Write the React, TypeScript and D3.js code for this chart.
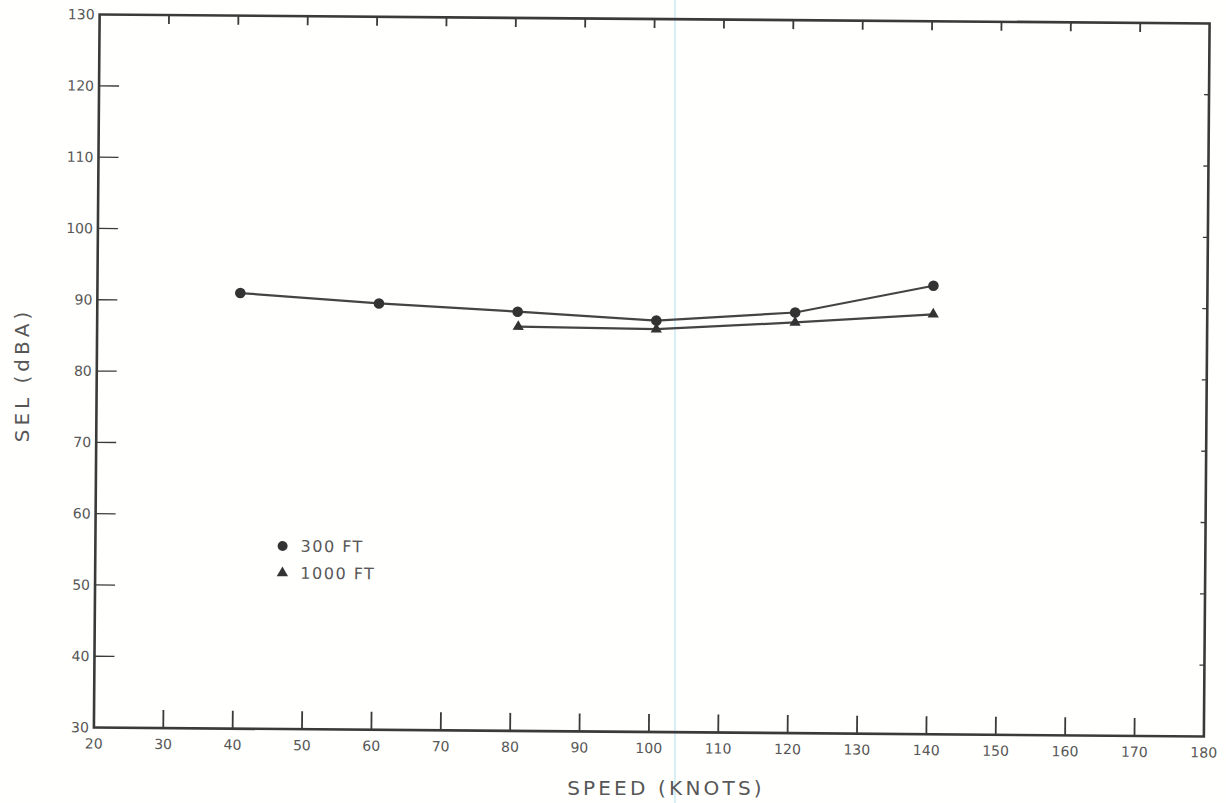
import React from "react";
import * as d3 from "d3";

const speedTicks = [20, 30, 40, 50, 60, 70, 80, 90, 100, 110, 120, 130, 140, 150, 160, 170, 180];
const selTicks = [30, 40, 50, 60, 70, 80, 90, 100, 110, 120, 130];

const speeds300 = [40.6, 60.6, 80.6, 100.6, 120.6, 140.5];
const sel300 = [91.1, 89.8, 88.8, 87.7, 89.0, 92.9];

const speeds1000 = [80.7, 100.6, 120.6, 140.5];
const sel1000 = [86.7, 86.5, 87.6, 88.9];

const legendLabels = ["300 FT", "1000 FT"];

const W = 1226;
const H = 803;
const left = 96.75;
const right = 1206.75;
const top = 19;
const bottom = 732;
const cx = (left + right) / 2;
const cy = (top + bottom) / 2;
const ink = "#3a3a3a";
const labelInk = "#575757";
const font = "'DejaVu Sans', 'Liberation Sans', sans-serif";

export default function App() {
  const x = d3.scaleLinear().domain([20, 180]).range([left, right]);
  const y = d3.scaleLinear().domain([30, 130]).range([bottom, top]);

  const line = d3
    .line<[number, number]>()
    .x((d) => x(d[0]))
    .y((d) => y(d[1]));

  const pts300: [number, number][] = speeds300.map((s, i) => [s, sel300[i]]);
  const pts1000: [number, number][] = speeds1000.map((s, i) => [s, sel1000[i]]);

  const tri = d3.symbol().type(d3.symbolTriangle).size(55)();

  return (
    <svg
      width={W}
      height={H}
      style={{ position: "fixed", left: 0, top: 0, background: "#fff" }}
    >
      <rect x={0} y={0} width={W} height={H} fill="#fffffd" />
      {/* scanner artifact line */}
      <line x1={675} x2={675} y1={0} y2={H} stroke="#c9ebf2" strokeWidth={1.5} />
      <g transform={`rotate(0.46, ${cx}, ${cy})`}>
        {/* frame */}
        <rect
          x={left}
          y={top}
          width={right - left}
          height={bottom - top}
          fill="none"
          stroke={ink}
          strokeWidth={2.6}
        />
        {/* x ticks */}
        {speedTicks.map((t) => (
          <g key={"xt" + t}>
            {t !== 20 && t !== 180 && (
              <>
                <line x1={x(t)} x2={x(t)} y1={bottom} y2={bottom - 18} stroke={ink} strokeWidth={1.8} />
                <line x1={x(t)} x2={x(t)} y1={top} y2={top + 9} stroke={ink} strokeWidth={1.8} />
              </>
            )}
            <text
              x={x(t)}
              y={bottom + 21}
              textAnchor="middle"
              fontFamily={font}
              fontSize={14}
              fill={labelInk}
            >
              {t}
            </text>
          </g>
        ))}
        {/* y ticks */}
        {selTicks.map((t) => (
          <g key={"yt" + t}>
            {t !== 30 && t !== 130 && (
              <>
                <line x1={left} x2={left + 20} y1={y(t)} y2={y(t)} stroke={ink} strokeWidth={1.3} />
                <line x1={right} x2={right - 5} y1={y(t)} y2={y(t)} stroke={ink} strokeWidth={1.3} />
              </>
            )}
            <text
              x={left - 5}
              y={y(t)}
              dy="0.35em"
              textAnchor="end"
              fontFamily={font}
              fontSize={14}
              fill={labelInk}
            >
              {t}
            </text>
          </g>
        ))}
        {/* series lines */}
        <path d={line(pts300) || ""} fill="none" stroke="#444" strokeWidth={2.2} />
        <path d={line(pts1000) || ""} fill="none" stroke="#444" strokeWidth={2.2} />
        {pts300.map((p, i) => (
          <circle key={"c" + i} cx={x(p[0])} cy={y(p[1])} r={5.3} fill="#333" />
        ))}
        {pts1000.map((p, i) => (
          <path key={"t" + i} d={tri || ""} transform={`translate(${x(p[0])},${y(p[1])})`} fill="#333" />
        ))}
        {/* legend */}
        <circle cx={284} cy={549} r={5} fill="#333" />
        <text x={302} y={549} dy="0.35em" fontFamily={font} fontSize={16} letterSpacing={1.5} fill={labelInk}>
          {legendLabels[0]}
        </text>
        <path d={tri || ""} transform="translate(284,576)" fill="#333" />
        <text x={302} y={576} dy="0.35em" fontFamily={font} fontSize={16} letterSpacing={1.5} fill={labelInk}>
          {legendLabels[1]}
        </text>
      </g>
      {/* axis titles */}
      <text
        x={666}
        y={795}
        textAnchor="middle"
        fontFamily={font}
        fontSize={20}
        letterSpacing={3.2}
        fill={labelInk}
      >
        SPEED (KNOTS)
      </text>
      <text
        transform="translate(29,375) rotate(-90)"
        textAnchor="middle"
        fontFamily={font}
        fontSize={20}
        letterSpacing={4}
        fill={labelInk}
      >
        SEL (dBA)
      </text>
    </svg>
  );
}
